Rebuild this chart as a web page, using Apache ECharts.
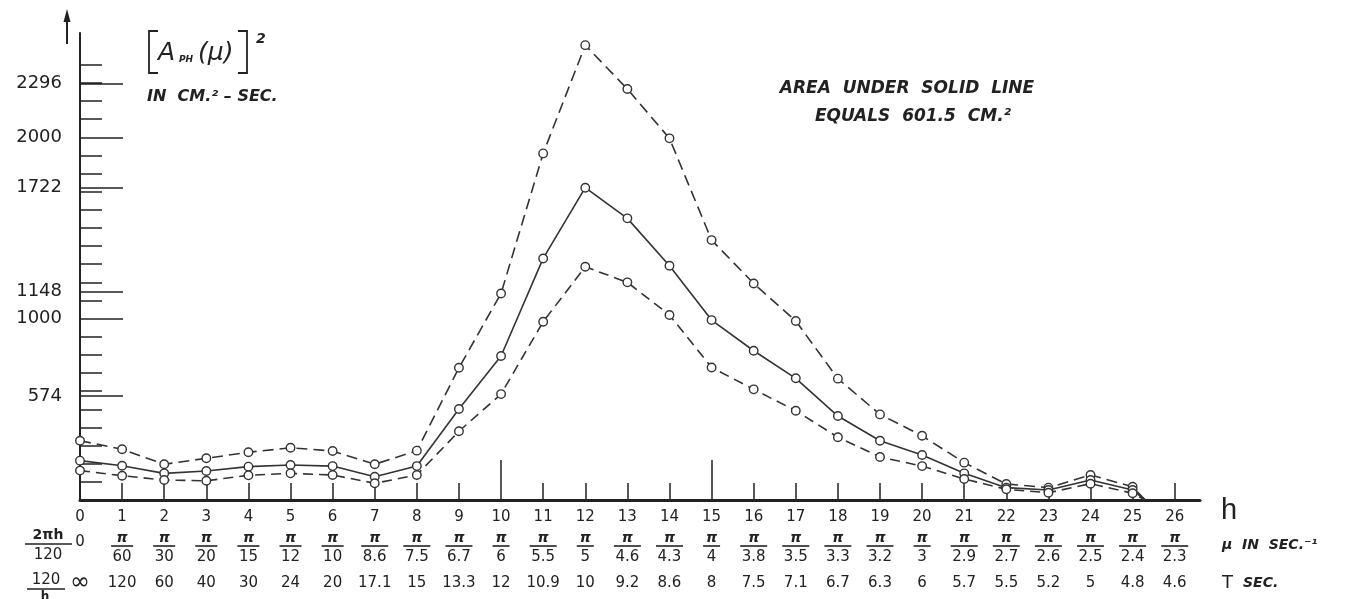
<!DOCTYPE html>
<html>
<head>
<meta charset="utf-8">
<script src="https://cdn.jsdelivr.net/npm/echarts@6/dist/echarts.min.js"></script>
<style>
  html, body { margin: 0; padding: 0; background: #ffffff; }
  #chart { width: 1358px; height: 599px; }
</style>
</head>
<body>
<div id="chart"></div>
<script>
// Wave number h of each plotted point
const hValues = [0, 1, 2, 3, 4, 5, 6, 7, 8, 9, 10, 11, 12, 13, 14, 15, 16, 17, 18, 19, 20, 21, 22, 23, 24, 25];
// [A_PH(mu)]^2 in cm^2-sec: upper dashed curve, solid curve, lower dashed curve
const upperValues = [327, 280, 197, 230, 263, 288, 270, 197, 272, 729, 1139, 1911, 2508, 2266, 1994, 1433, 1194, 987, 669, 472, 354, 206, 88, 68, 138, 73];
const solidValues = [217, 189, 147, 160, 184, 193, 187, 128, 187, 502, 794, 1332, 1722, 1553, 1292, 992, 823, 671, 463, 327, 248, 147, 68, 55, 110, 55];
const lowerValues = [162, 134, 110, 106, 136, 147, 138, 92, 138, 379, 584, 983, 1286, 1200, 1020, 731, 610, 492, 346, 237, 187, 116, 59, 40, 90, 37];
// all three curves run down to the h axis just past h = 25
const tailPoint = [25.3, 0];

// Axis ticks and labels
const hTicks = [0, 1, 2, 3, 4, 5, 6, 7, 8, 9, 10, 11, 12, 13, 14, 15, 16, 17, 18, 19, 20, 21, 22, 23, 24, 25, 26];
const hLongTicks = [10, 15];
const muDenominators = ['', '60', '30', '20', '15', '12', '10', '8.6', '7.5', '6.7', '6', '5.5', '5', '4.6', '4.3', '4', '3.8', '3.5', '3.3', '3.2', '3', '2.9', '2.7', '2.6', '2.5', '2.4', '2.3'];
const periodLabels = ['∞', '120', '60', '40', '30', '24', '20', '17.1', '15', '13.3', '12', '10.9', '10', '9.2', '8.6', '8', '7.5', '7.1', '6.7', '6.3', '6', '5.7', '5.5', '5.2', '5', '4.8', '4.6'];
const yLabelValues = [574, 1000, 1148, 1722, 2000, 2296];
const yMinorTicks = [];
for (let v = 100; v <= 2400; v += 100) yMinorTicks.push(v);

const INK = '#222';
const FONT = '"DejaVu Sans", sans-serif';

const toPairs = (ys) => ys.map((y, i) => [hValues[i], y]).concat([{ value: tailPoint, symbol: 'none' }]);

const hiddenAxisBase = {
  type: 'value', min: 0, max: 26.6, gridIndex: 0, position: 'bottom',
  axisLine: { show: false, onZero: false }, axisTick: { show: false }, splitLine: { show: false }
};

const lineSeries = (name, ys, dash) => ({
  name, type: 'line', xAxisIndex: 0, yAxisIndex: 0,
  data: toPairs(ys),
  symbol: 'circle', symbolSize: 8.5,
  itemStyle: { color: '#ffffff', borderColor: '#333', borderWidth: 1.4 },
  lineStyle: { color: '#333', width: 1.6, type: dash },
  emphasis: { disabled: true },
  z: 5
});

const textEl = (x, y, text, font, align) => ({
  type: 'text', x, y,
  style: { text, font, fill: INK, align: align || 'left', verticalAlign: 'middle', textAlign: align || 'left', textVerticalAlign: 'middle' }
});

const chart = echarts.init(document.getElementById('chart'));
chart.setOption({
  animation: false,
  backgroundColor: '#ffffff',
  grid: { left: 80, right: 158, top: 33, bottom: 99 },
  xAxis: [
    {
      type: 'value', min: 0, max: 26.6, position: 'bottom',
      axisLine: { onZero: false, lineStyle: { color: INK, width: 3 } },
      axisTick: { inside: true, length: 17, customValues: hTicks, lineStyle: { color: INK, width: 1.5 } },
      axisLabel: {
        customValues: hTicks, margin: 17, verticalAlign: 'middle',
        fontFamily: FONT, fontSize: 15, color: INK
      },
      splitLine: { show: false }
    },
    Object.assign({}, hiddenAxisBase, {
      axisTick: { show: true, inside: true, length: 40, customValues: hLongTicks, lineStyle: { color: INK, width: 1.5 } },
      axisLabel: { show: false }
    }),
    Object.assign({}, hiddenAxisBase, {
      axisLabel: {
        customValues: hTicks, margin: 38, verticalAlign: 'middle',
        formatter: (v) => (v === 0 ? '{z|0}' : '{pi|π}'),
        rich: {
          pi: { fontFamily: FONT, fontStyle: 'italic', fontWeight: 'bold', fontSize: 14, color: INK },
          z: { fontFamily: FONT, fontSize: 15, color: INK, padding: [8, 0, 0, 0] }
        }
      }
    }),
    Object.assign({}, hiddenAxisBase, {
      axisLabel: {
        customValues: hTicks, margin: 46, verticalAlign: 'middle',
        formatter: (v) => {
          const d = muDenominators[Math.round(v)] || '';
          if (!d) return '';
          return '{b' + Math.min(d.length, 3) + '| }';
        },
        rich: {
          b1: { width: 17, height: 1.6, lineHeight: 2, fontSize: 2, backgroundColor: INK },
          b2: { width: 22, height: 1.6, lineHeight: 2, fontSize: 2, backgroundColor: INK },
          b3: { width: 27, height: 1.6, lineHeight: 2, fontSize: 2, backgroundColor: INK }
        }
      }
    }),
    Object.assign({}, hiddenAxisBase, {
      axisLabel: {
        customValues: hTicks, margin: 57, verticalAlign: 'middle',
        formatter: (v) => muDenominators[Math.round(v)] || '',
        fontFamily: FONT, fontSize: 15, color: INK
      }
    }),
    Object.assign({}, hiddenAxisBase, {
      axisLabel: {
        customValues: hTicks, margin: 83, verticalAlign: 'middle',
        formatter: (v) => (v === 0 ? '{inf|∞}' : periodLabels[Math.round(v)]),
        fontFamily: FONT, fontSize: 15, color: INK,
        rich: { inf: { fontFamily: FONT, fontSize: 24, color: INK } }
      }
    })
  ],
  yAxis: [
    {
      type: 'value', min: 0, max: 2575, position: 'left',
      axisLine: { show: true, onZero: false, lineStyle: { color: INK, width: 2 } },
      axisTick: { show: true, inside: true, length: 22, customValues: yMinorTicks, lineStyle: { color: INK, width: 1.5 } },
      axisLabel: { show: false },
      splitLine: { show: false }
    },
    {
      type: 'value', min: 0, max: 2575, position: 'left',
      axisLine: { show: false, onZero: false },
      axisTick: { show: true, inside: true, length: 43, customValues: yLabelValues, lineStyle: { color: INK, width: 1.5 } },
      axisLabel: {
        customValues: yLabelValues, margin: 18, formatter: (v) => String(v),
        fontFamily: FONT, fontSize: 18, color: INK
      },
      splitLine: { show: false }
    }
  ],
  series: [
    lineSeries('upper', upperValues, [11, 6]),
    lineSeries('solid', solidValues, 'solid'),
    lineSeries('lower', lowerValues, [10, 6])
  ],
  graphic: [
    // arrow beside the ordinate
    { type: 'line', shape: { x1: 67, y1: 44, x2: 67, y2: 16 }, style: { stroke: INK, lineWidth: 2 } },
    { type: 'polygon', shape: { points: [[63.5, 22], [67, 9], [70.5, 22]] }, style: { fill: INK } },
    // ordinate title [A_PH(mu)]^2
    { type: 'polyline', shape: { points: [[158, 31], [149, 31], [149, 73], [158, 73]] }, style: { stroke: INK, lineWidth: 1.8, fill: null } },
    { type: 'polyline', shape: { points: [[238, 31], [247, 31], [247, 73], [238, 73]] }, style: { stroke: INK, lineWidth: 1.8, fill: null } },
    textEl(158, 53, 'A', 'italic 25px ' + FONT),
    textEl(179, 60, 'PH', 'italic bold 9px ' + FONT),
    textEl(198, 53, '(μ)', 'italic 25px ' + FONT),
    textEl(256, 39, '2', 'italic bold 14px ' + FONT),
    textEl(147, 97, 'IN  CM.² – SEC.', 'italic bold 16px ' + FONT),
    // note on the area under the solid curve
    textEl(907, 89, 'AREA  UNDER  SOLID  LINE', 'italic bold 17px ' + FONT, 'center'),
    textEl(913, 117, 'EQUALS  601.5  CM.²', 'italic bold 17px ' + FONT, 'center'),
    // row captions at the right
    textEl(1221, 511, 'h', '29px "Liberation Sans", sans-serif'),
    textEl(1222, 545, 'μ  IN  SEC.⁻¹', 'italic bold 14px ' + FONT),
    textEl(1222, 583, 'T', '18px ' + FONT),
    textEl(1243, 583, 'SEC.', 'italic bold 14px ' + FONT),
    // row captions at the left: 2πh/120 and 120/h
    textEl(48, 535, '2πh', 'bold 14px ' + FONT, 'center'),
    { type: 'line', shape: { x1: 25, y1: 544, x2: 72, y2: 544 }, style: { stroke: INK, lineWidth: 1.6 } },
    textEl(48, 555, '120', '15px ' + FONT, 'center'),
    textEl(46, 580, '120', '15px ' + FONT, 'center'),
    { type: 'line', shape: { x1: 27, y1: 589, x2: 65, y2: 589 }, style: { stroke: INK, lineWidth: 1.6 } },
    textEl(45, 597, 'h', 'bold 12px ' + FONT, 'center')
  ]
});
</script>
</body>
</html>
